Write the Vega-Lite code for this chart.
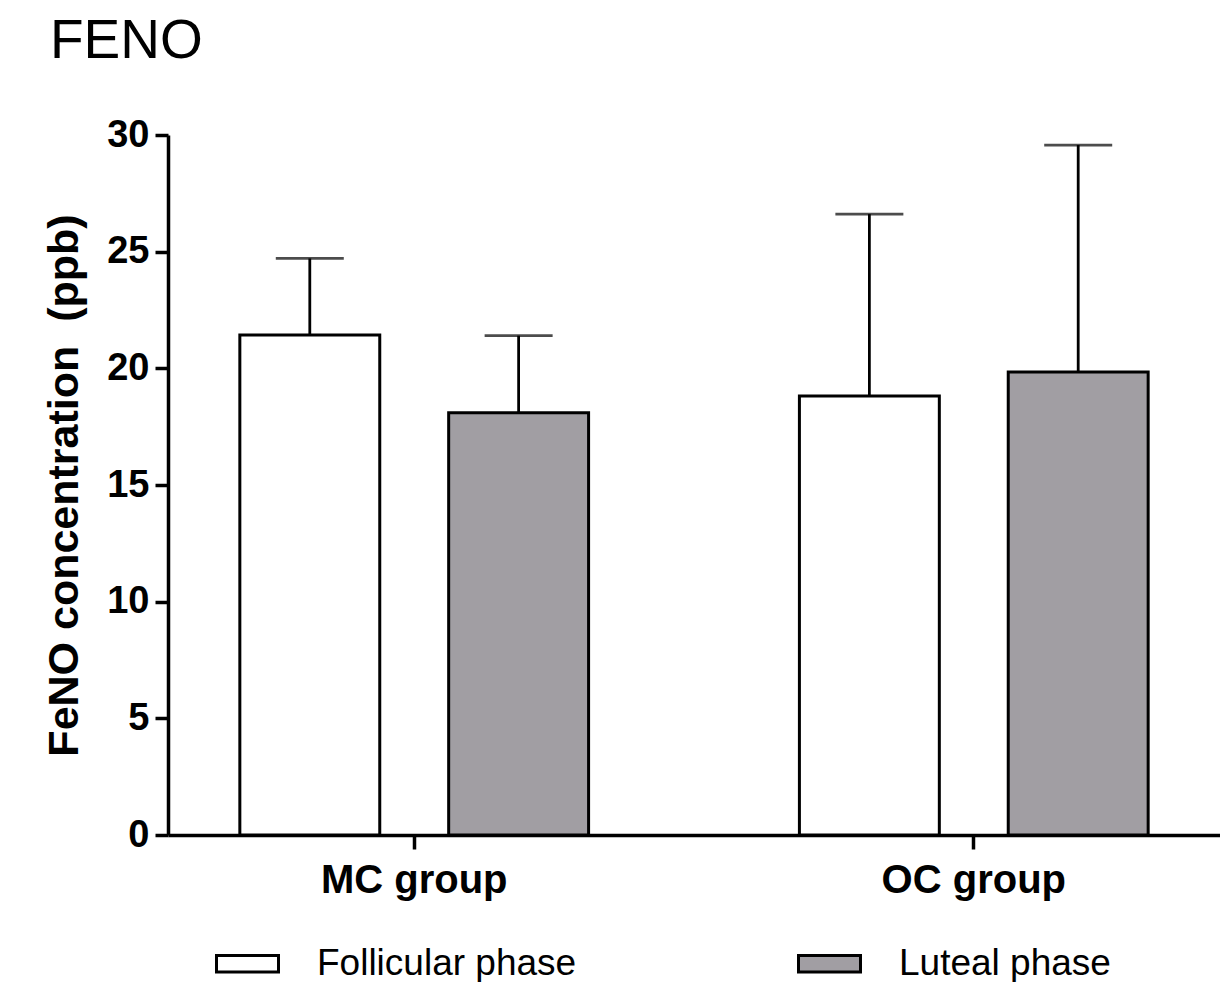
{
  "$schema": "https://vega.github.io/schema/vega-lite/v6.json",
  "width": 1052,
  "height": 700,
  "autosize": {"type": "none"},
  "padding": {"left": 168, "top": 135, "right": 0, "bottom": 147},
  "background": "white",
  "title": {
    "text": "FENO",
    "anchor": "start",
    "frame": "group",
    "font": "Liberation Sans",
    "fontSize": 55,
    "fontWeight": "normal",
    "color": "black",
    "dx": -118,
    "offset": 46
  },
  "config": {
    "view": {"stroke": null},
    "axis": {
      "domainColor": "black",
      "domainWidth": 3.5,
      "tickColor": "black",
      "tickWidth": 3.5,
      "labelColor": "black",
      "labelFont": "Liberation Sans",
      "labelFontWeight": "bold",
      "titleFont": "Liberation Sans",
      "titleColor": "black",
      "grid": false
    }
  },
  "data": {
    "values": [
      {"group": "MC group", "phase": "Follicular phase", "mean": 21.43, "upper": 24.71},
      {"group": "MC group", "phase": "Luteal phase", "mean": 18.1, "upper": 21.4},
      {"group": "OC group", "phase": "Follicular phase", "mean": 18.81, "upper": 26.61},
      {"group": "OC group", "phase": "Luteal phase", "mean": 19.84, "upper": 29.57}
    ]
  },
  "encoding": {
    "x": {
      "field": "group",
      "type": "nominal",
      "sort": ["MC group", "OC group"],
      "scale": {"paddingInner": 0.12, "paddingOuter": 0},
      "axis": {
        "title": null,
        "labelAngle": 0,
        "labelFontSize": 40,
        "labelLimit": 0,
        "tickSize": 14,
        "labelPadding": 11
      }
    },
    "xOffset": {
      "field": "phase",
      "type": "nominal",
      "sort": ["Follicular phase", "Luteal phase"],
      "scale": {"paddingInner": 0.33, "paddingOuter": 0.344}
    }
  },
  "layer": [
    {
      "mark": {"type": "rule", "color": "black", "strokeWidth": 2.8},
      "encoding": {
        "y": {"field": "mean", "type": "quantitative"},
        "y2": {"field": "upper"}
      }
    },
    {
      "mark": {"type": "tick", "color": "black", "size": 68, "thickness": 2.8, "orient": "horizontal"},
      "encoding": {
        "y": {"field": "upper", "type": "quantitative"}
      }
    },
    {
      "mark": {"type": "bar", "stroke": "black", "strokeWidth": 3, "opacity": 1},
      "encoding": {
        "y": {
          "field": "mean",
          "type": "quantitative",
          "scale": {"domain": [0, 30], "nice": false, "zero": true},
          "axis": {
            "title": "FeNO concentration \u00a0(ppb)",
            "titleFontSize": 43,
            "titleFontWeight": "bold",
            "titlePadding": 20,
            "values": [0, 5, 10, 15, 20, 25, 30],
            "labelFontSize": 38,
            "tickSize": 13,
            "labelPadding": 6
          }
        },
        "fill": {
          "field": "phase",
          "type": "nominal",
          "scale": {"domain": ["Follicular phase", "Luteal phase"], "range": ["#ffffff", "#a19ea3"]},
          "legend": {
            "title": null,
            "orient": "none",
            "direction": "horizontal",
            "legendX": 47,
            "legendY": 796,
            "symbolType": "M-1,-0.27H1V0.27H-1Z",
            "symbolSize": 3844,
            "symbolStrokeColor": "black",
            "symbolStrokeWidth": 3,
            "symbolOpacity": 1,
            "labelFont": "Liberation Sans",
            "labelFontSize": 37,
            "labelColor": "black",
            "labelOffset": 37,
            "labelLimit": 0,
            "columnPadding": 215
          }
        }
      }
    }
  ]
}
